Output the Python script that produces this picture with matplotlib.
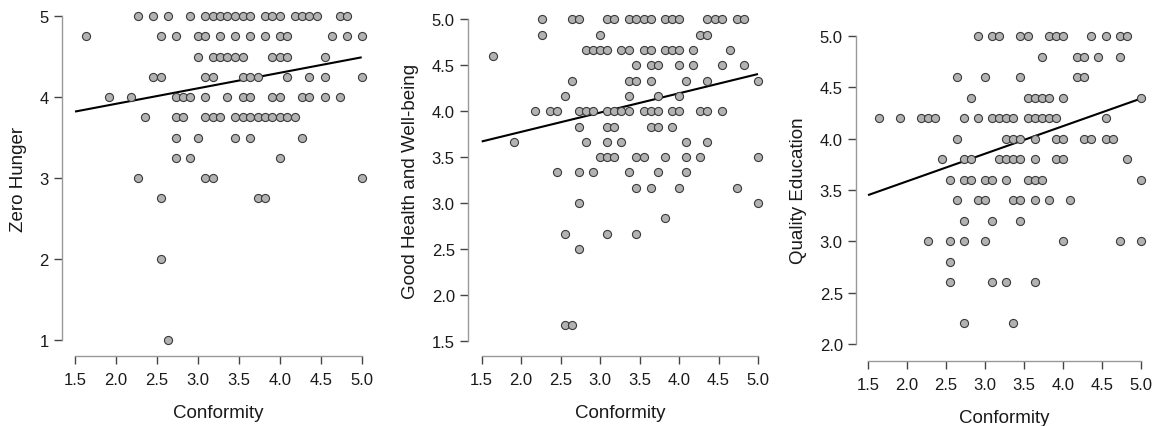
import matplotlib
matplotlib.use("Agg")
import matplotlib.pyplot as plt
import numpy as np

plt.rcParams['font.family'] = ['Liberation Sans', 'DejaVu Sans']

# ---------------- data ----------------
# Panel 1: Zero Hunger vs Conformity
hunger_x = [2.27,2.45,2.64,2.91,3.09,3.18,3.27,3.36,3.45,3.55,3.64,3.82,3.91,4.00,4.18,4.27,4.36,4.45,4.73,4.82,
            1.64,2.55,2.73,3.00,3.09,3.27,3.45,3.64,3.82,4.00,4.09,4.64,4.82,5.00,
            3.00,3.18,3.27,3.36,3.45,3.55,3.91,4.00,4.09,4.55,
            2.45,2.55,3.09,3.18,3.55,3.64,3.73,4.09,4.36,4.55,5.00,
            1.91,2.18,2.73,2.82,2.91,3.09,3.36,3.55,3.64,3.91,4.00,4.27,4.36,4.55,4.73,
            2.36,2.73,2.82,3.09,3.18,3.27,3.45,3.55,3.64,3.73,3.82,3.91,4.00,4.09,4.18,
            2.73,3.00,3.45,3.64,4.27,
            2.73,2.91,4.00,
            2.27,3.09,3.18,5.00,
            2.55,3.73,3.82,
            2.55,
            2.64]
hunger_y = ([5.0]*20 + [4.75]*14 + [4.5]*10 + [4.25]*11 + [4.0]*15 + [3.75]*15 +
            [3.5]*5 + [3.25]*3 + [3.0]*4 + [2.75]*3 + [2.0]*1 + [1.0]*1)

# Panel 2: Good Health and Well-being vs Conformity
health_x = [2.27,2.64,2.73,3.09,3.18,3.36,3.45,3.55,3.64,3.82,3.91,4.00,4.36,4.45,4.55,4.73,4.82,
            2.27,3.00,4.27,4.36,
            2.82,2.91,3.00,3.09,3.27,3.36,3.55,3.64,3.82,3.91,4.00,4.18,4.64,
            1.64,
            3.45,3.64,3.73,4.00,4.18,4.55,4.82,
            2.64,3.36,3.45,3.64,4.09,4.36,5.00,
            2.55,3.36,3.73,4.00,
            2.18,2.36,2.45,2.73,2.82,2.91,3.09,3.18,3.27,3.36,3.55,3.64,3.73,3.91,4.00,4.27,4.36,4.55,
            2.73,3.09,3.18,3.64,3.73,3.91,
            1.91,2.82,3.09,3.27,4.09,4.36,
            3.00,3.09,3.18,3.45,3.55,3.82,4.09,4.27,5.00,
            2.45,2.73,2.91,3.36,3.73,4.09,
            3.45,3.64,4.00,4.73,
            2.73,5.00,
            3.82,
            2.55,3.09,3.45,
            2.73,
            2.55,2.64]
health_y = ([5.0]*17 + [4.833]*4 + [4.667]*13 + [4.6]*1 + [4.5]*7 + [4.333]*7 + [4.167]*4 +
            [4.0]*18 + [3.833]*6 + [3.667]*6 + [3.5]*9 + [3.333]*6 + [3.167]*4 + [3.0]*2 +
            [2.833]*1 + [2.667]*3 + [2.5]*1 + [1.667]*2)

# Panel 3: Quality Education vs Conformity
edu_x = [2.91,3.09,3.18,3.45,3.55,3.82,3.91,4.00,4.36,4.55,4.73,4.82,
         3.73,4.18,4.27,4.45,4.73,
         2.64,3.00,3.45,4.18,4.27,
         2.82,3.55,3.64,3.73,3.82,4.00,5.00,
         1.64,1.91,2.18,2.27,2.36,2.73,2.91,3.09,3.18,3.27,3.36,3.55,3.64,3.73,3.82,3.91,4.55,
         2.64,3.27,3.36,3.45,3.64,3.91,4.00,4.27,4.36,4.55,4.64,
         2.45,2.73,2.82,3.18,3.27,3.36,3.45,3.64,3.91,4.00,4.82,
         2.55,2.73,2.82,3.00,3.09,3.27,3.55,3.64,3.73,5.00,
         2.64,2.91,3.00,3.36,3.45,3.64,3.82,4.09,
         2.73,3.09,3.45,
         2.27,2.55,2.73,3.00,4.00,4.73,5.00,
         2.55,
         2.55,3.09,3.27,3.64,
         2.73,3.36]
edu_y = ([5.0]*12 + [4.8]*5 + [4.6]*5 + [4.4]*7 + [4.2]*17 + [4.0]*11 + [3.8]*11 +
         [3.6]*10 + [3.4]*8 + [3.2]*3 + [3.0]*7 + [2.8]*1 + [2.6]*4 + [2.2]*2)

# fitted regression lines (values read at x = 1.5 and x = 5.0)
fit_x = [1.5, 5.0]
hunger_fit = [3.82, 4.49]
health_fit = [3.67, 4.405]
edu_fit = [3.45, 4.39]

x_ticks = [1.5, 2.0, 2.5, 3.0, 3.5, 4.0, 4.5, 5.0]
hunger_ticks = [1, 2, 3, 4, 5]
health_ticks = [1.5, 2.0, 2.5, 3.0, 3.5, 4.0, 4.5, 5.0]
edu_ticks = [2.0, 2.5, 3.0, 3.5, 4.0, 4.5, 5.0]

# ---------------- figure ----------------
W, H = 1154, 427
fig = plt.figure(figsize=(W/100, H/100), dpi=100)

def px_axes(x0, x1, ytop, ybot):
    return fig.add_axes([x0/W, 1-ybot/H, (x1-x0)/W, (ybot-ytop)/H])

panels = [
    dict(box=(75, 361.7, 17, 341), off=(13, 16), x=hunger_x, y=hunger_y, fit=hunger_fit,
         yt=hunger_ticks, ylab="Zero Hunger", fmt="{:.0f}"),
    dict(box=(481.7, 758, 20.4, 341.7), off=(13.7, 15.3), x=health_x, y=health_y, fit=health_fit,
         yt=health_ticks, ylab="Good Health and Well-being", fmt="{:.1f}"),
    dict(box=(868, 1140.7, 37, 345), off=(12, 17), x=edu_x, y=edu_y, fit=edu_fit,
         yt=edu_ticks, ylab="Quality Education", fmt="{:.1f}"),
]

spine_col = '#999999'
tick_col = '#444444'

for p in panels:
    ax = px_axes(*p['box'])
    ax.set_xlim(x_ticks[0], x_ticks[-1])
    ax.set_ylim(p['yt'][0], p['yt'][-1])
    ax.plot(fit_x, p['fit'], color='black', lw=1.5, zorder=2, clip_on=False,
            solid_capstyle='butt')
    ax.scatter(p['x'], p['y'], s=34, facecolor='#b2b2b2', edgecolor='#3a3a3a',
               linewidths=0.8, zorder=3, clip_on=False)
    for s in ['top', 'right']:
        ax.spines[s].set_visible(False)
    ax.spines['left'].set_position(('outward', p['off'][0]*0.72))
    ax.spines['bottom'].set_position(('outward', p['off'][1]*0.72))
    ax.spines['left'].set_bounds(p['yt'][0], p['yt'][-1])
    ax.spines['bottom'].set_bounds(x_ticks[0], x_ticks[-1])
    for s in ['left', 'bottom']:
        ax.spines[s].set_color(spine_col)
        ax.spines[s].set_linewidth(1.0)
    ax.set_xticks(x_ticks)
    ax.set_xticklabels([f"{v:.1f}" for v in x_ticks])
    ax.set_yticks(p['yt'])
    ax.set_yticklabels([p['fmt'].format(v) for v in p['yt']])
    ax.tick_params(axis='both', direction='out', length=5.5, width=1.0, color=tick_col,
                   labelsize=12, labelcolor='#1a1a1a')
    ax.tick_params(axis='x', pad=6)
    ax.tick_params(axis='y', pad=4)
    ax.set_xlabel("Conformity", fontsize=13.5, color='#1a1a1a', labelpad=12)
    ax.set_ylabel(p['ylab'], fontsize=13.5, color='#1a1a1a', labelpad=9)
    ax.patch.set_alpha(0)

fig.savefig("out.png", dpi=100, facecolor='white')
